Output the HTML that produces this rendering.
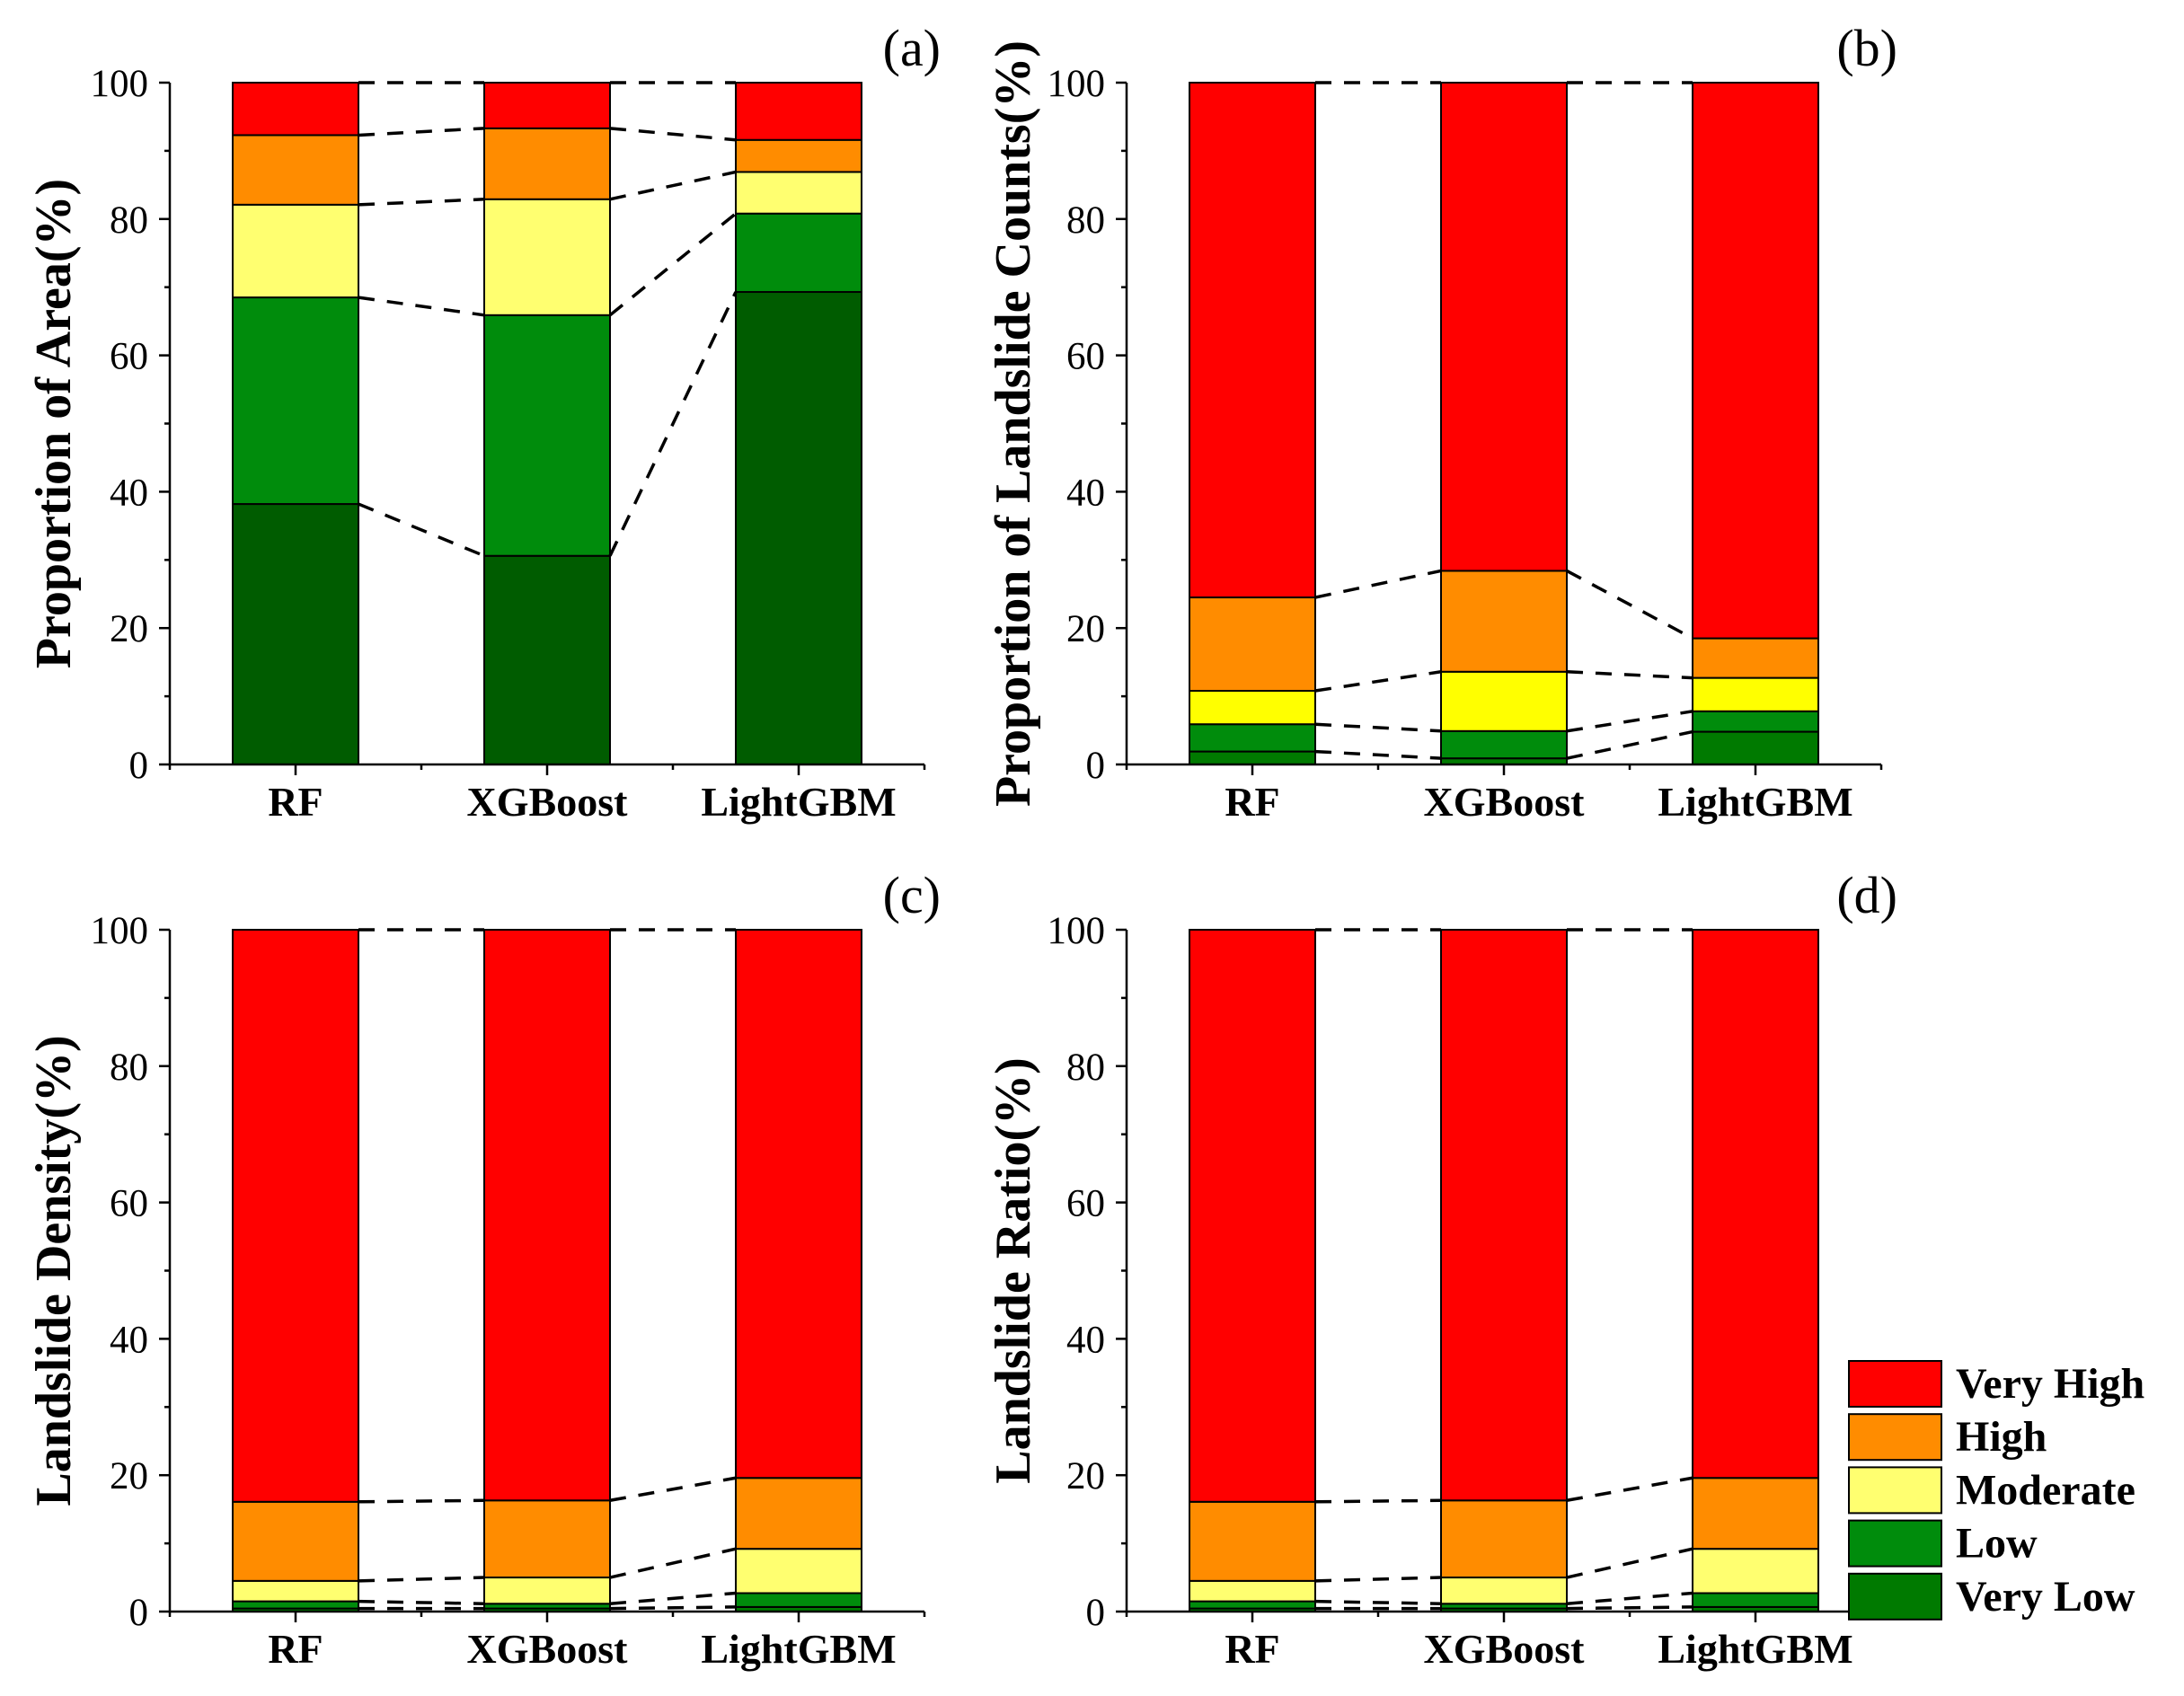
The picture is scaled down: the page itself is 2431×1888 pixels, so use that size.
<!DOCTYPE html>
<html><head><meta charset="utf-8">
<style>
html,body{margin:0;padding:0;background:#fff;}
svg{display:block;}
text{font-family:"Liberation Serif","Times New Roman",serif;fill:#000;}
</style></head>
<body>
<svg id="chart" width="2431" height="1888" viewBox="0 0 2431 1888" xmlns="http://www.w3.org/2000/svg"></svg>
<script>
// ---- data ----
const categories = ["RF", "XGBoost", "LightGBM"];
const levels = ["Very Low", "Low", "Moderate", "High", "Very High"];
const areaVeryLow  = [38.2, 30.6, 69.3];
const areaLow      = [30.3, 35.3, 11.5];
const areaModerate = [13.6, 17.0, 6.1];
const areaHigh     = [10.2, 10.4, 4.7];
const areaVeryHigh = [7.7, 6.7, 8.4];

const countVeryLow  = [1.9, 0.9, 4.8];
const countLow      = [4.0, 4.0, 3.0];
const countModerate = [4.9, 8.7, 4.9];
const countHigh     = [13.7, 14.8, 5.8];
const countVeryHigh = [75.5, 71.6, 81.5];

const densVeryLow  = [0.45, 0.45, 0.67];
const densLow      = [1.05, 0.7, 2.03];
const densModerate = [3.0, 3.85, 6.5];
const densHigh     = [11.6, 11.3, 10.4];
const densVeryHigh = [83.9, 83.7, 80.4];

const ratioVeryLow  = [0.45, 0.45, 0.67];
const ratioLow      = [1.05, 0.7, 2.03];
const ratioModerate = [3.0, 3.85, 6.5];
const ratioHigh     = [11.6, 11.3, 10.4];
const ratioVeryHigh = [83.9, 83.7, 80.4];

const yTicks = [0, 20, 40, 60, 80, 100];

const panels = [
  {id:"a", x0:189, y0:851, yTitle:"Proportion of Area(%)", titleX:60, series:[areaVeryLow,areaLow,areaModerate,areaHigh,areaVeryHigh], colors:["#005c00","#008c0c","#ffff70","#ff8c00","#ff0000"]},
  {id:"b", x0:1254, y0:851, yTitle:"Proportion of Landslide Counts(%)", titleX:1128, series:[countVeryLow,countLow,countModerate,countHigh,countVeryHigh], colors:["#007a00","#008c0c","#ffff00","#ff8c00","#ff0000"]},
  {id:"c", x0:189, y0:1794, yTitle:"Landslide Density(%)", titleX:60, series:[densVeryLow,densLow,densModerate,densHigh,densVeryHigh], colors:["#007a00","#008c0c","#ffff70","#ff8c00","#ff0000"]},
  {id:"d", x0:1254, y0:1794, yTitle:"Landslide Ratio(%)", titleX:1128, series:[ratioVeryLow,ratioLow,ratioModerate,ratioHigh,ratioVeryHigh], colors:["#007a00","#008c0c","#ffff70","#ff8c00","#ff0000"]}
];
const legendColors = ["#ff0000","#ff8c00","#ffff70","#008c0c","#007a00"];
const legendLabels = ["Very High","High","Moderate","Low","Very Low"];

const NS = "http://www.w3.org/2000/svg";
const svg = document.getElementById("chart");
function mk(tag, attrs, parent){
  const e = document.createElementNS(NS, tag);
  for (const k in attrs) e.setAttribute(k, attrs[k]);
  (parent||svg).appendChild(e);
  return e;
}
const W = 840, H = 759, barW = 140;

panels.forEach(p=>{
  const g = mk("g", {});
  
  
  const xScale = i => p.x0 + (i + 0.5) * (W / categories.length);
  const yScale = v => p.y0 - v / 100 * H;
  const tops = categories.map(()=>[]);
  categories.forEach((c, ci)=>{
    let cum = 0;
    p.series.forEach((s, li)=>{
      const yb = yScale(cum), yt = yScale(cum + s[ci]);
      cum += s[ci];
      tops[ci].push(cum);
      const r = mk("rect", {x:xScale(ci)-barW/2, y:yt, width:barW, height:yb-yt, fill:p.colors[li], stroke:"#000", "stroke-width":2}, g);
      
      
    });
  });
  for (let ci=0; ci<categories.length-1; ci++){
    for (let li=0; li<levels.length; li++){
      const l = mk("line", {x1:xScale(ci)+barW/2, y1:yScale(tops[ci][li]), x2:xScale(ci+1)-barW/2, y2:yScale(tops[ci+1][li]), stroke:"#000", "stroke-width":3.5, "stroke-dasharray":"18 14"}, g);
      
      
    }
  }
  const ax = mk("path", {d:`M${p.x0} ${yScale(100)} L${p.x0} ${p.y0} L${p.x0+W} ${p.y0}`, fill:"none", stroke:"#000", "stroke-width":2.5}, g);
  
  
  for (let v=0; v<=100; v+=10){
    const major = v % 20 === 0;
    mk("line", {x1:p.x0-(major?12:6), y1:yScale(v), x2:p.x0, y2:yScale(v), stroke:"#000", "stroke-width":2.5}, g);
  }
  yTicks.forEach(v=>{
    const t = mk("text", {x:p.x0-24, y:yScale(v)+15, "font-size":43, "text-anchor":"end"}, g);
    t.textContent = v;
    
    
  });
  for (let i=0;i<=categories.length;i++){
    mk("line", {x1:p.x0+i*W/3, y1:p.y0, x2:p.x0+i*W/3, y2:p.y0+6, stroke:"#000", "stroke-width":2.5}, g);
  }
  categories.forEach((c, ci)=>{
    mk("line", {x1:xScale(ci), y1:p.y0, x2:xScale(ci), y2:p.y0+12, stroke:"#000", "stroke-width":2.5}, g);
    const t = mk("text", {x:xScale(ci), y:p.y0+57, "font-size":46, "font-weight":"bold", "text-anchor":"middle"}, g);
    t.textContent = c;
    
    
  });
  const yc = p.y0 - H/2;
  const tt = mk("text", {x:p.titleX, y:yc, "font-size":56, "font-weight":"bold", "text-anchor":"middle", "dominant-baseline":"central", transform:`rotate(-90 ${p.titleX} ${yc})`}, g);
  tt.textContent = p.yTitle;
  
  
  const pl = mk("text", {x:p.x0+W+18, y:p.y0-H-19, "font-size":58, "text-anchor":"end"}, g);
  pl.textContent = "(" + p.id + ")";
  
  
});

const lg = mk("g", {});


legendLabels.forEach((lab, i)=>{
  const y = 1515 + i*59.2;
  const r = mk("rect", {x:2058, y:y, width:103, height:51, fill:legendColors[i], stroke:"#000", "stroke-width":2}, lg);
  
  
  const t = mk("text", {x:2177, y:y+41, "font-size":48, "font-weight":"bold"}, lg);
  t.textContent = lab;
  
  
});
</script>
</body></html>
